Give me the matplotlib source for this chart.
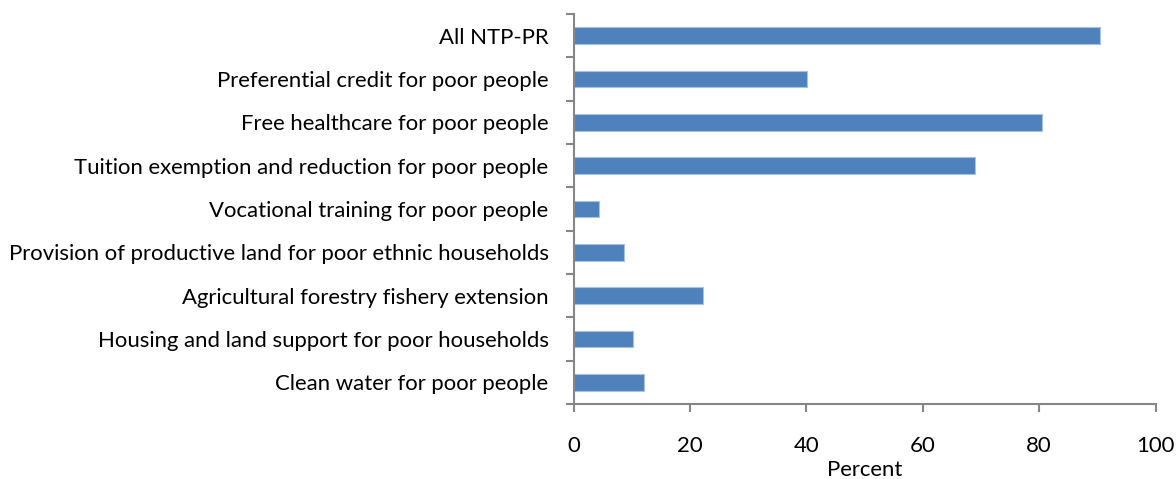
import matplotlib
matplotlib.use("Agg")
import matplotlib.pyplot as plt

categories = [
    "All NTP-PR",
    "Preferential credit for poor people",
    "Free healthcare for poor people",
    "Tuition exemption and reduction for poor people",
    "Vocational training for poor people",
    "Provision of productive land for poor ethnic households",
    "Agricultural forestry fishery extension",
    "Housing and land support for poor households",
    "Clean water for poor people",
]
values = [90.5, 40.1, 80.5, 69.0, 4.4, 8.6, 22.3, 10.2, 12.1]
xticks = [0, 20, 40, 60, 80, 100]
xlabel = "Percent"

plt.rcParams['font.family'] = ['Lato', 'DejaVu Sans']
fs = 15.9

fig = plt.figure(figsize=(11.76, 4.79), dpi=100)
ax = fig.add_axes([0.4877, 0.1566, 0.9826 - 0.4877, 0.9708 - 0.1566])

pos = list(range(len(categories)))
ax.barh(pos, values, height=0.39, color="#4F81BD", edgecolor="#A9C1E0", linewidth=0.8)
ax.set_ylim(len(categories) - 0.5, -0.5)
ax.set_xlim(0, 100)

ax.set_xticks(xticks)
ax.set_xticklabels([str(t) for t in xticks], fontsize=fs)
ax.set_yticks(pos)
ax.set_yticklabels(categories, fontsize=fs)
ax.tick_params(axis='y', length=0, pad=18)
ax.set_yticks([i - 0.5 for i in range(len(categories) + 1)], minor=True)
ax.tick_params(axis='y', which='minor', length=6, width=1.5, color="#868686", direction='out')
ax.tick_params(axis='x', length=6, width=1.5, color="#868686", direction='out', pad=17)

for s in ['top', 'right']:
    ax.spines[s].set_visible(False)
for s in ['left', 'bottom']:
    ax.spines[s].set_color("#868686")
    ax.spines[s].set_linewidth(1.5)

ax.set_xlabel(xlabel, fontsize=fs, labelpad=3)

fig.savefig("out.png", dpi=100)
